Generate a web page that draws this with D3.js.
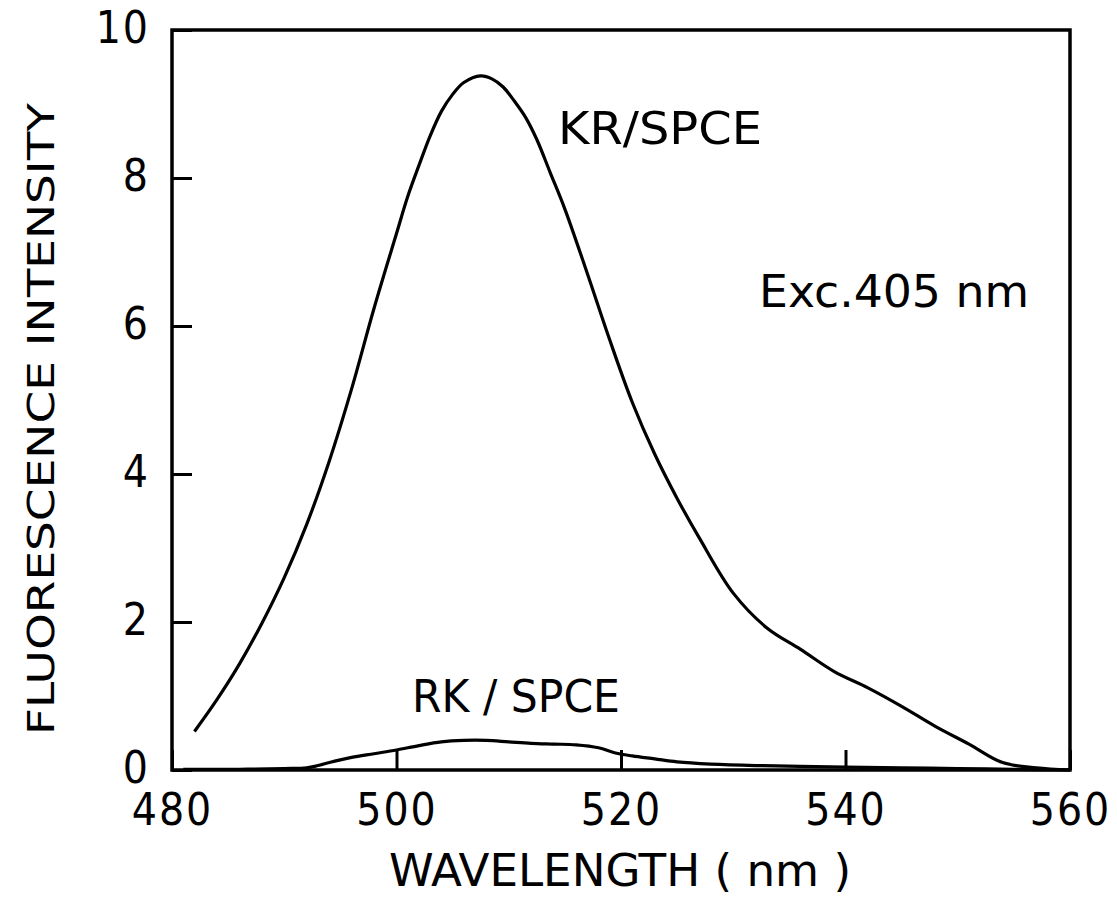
<!DOCTYPE html>
<html>
<head>
<meta charset="utf-8">
<script src="https://cdn.jsdelivr.net/npm/d3@7"></script>
<style>
  body { margin: 0; background: #fff; }
  svg text { font-family: "DejaVu Sans Condensed", "Liberation Sans Narrow", "DejaVu Sans", sans-serif; fill: #000; }
</style>
</head>
<body>
<div id="chart"></div>
<script>
// values
const xTicks = [480, 500, 520, 540, 560];
const yTicks = [0, 2, 4, 6, 8, 10];

const krWavelength = [482, 484, 486, 488, 490, 492, 494, 496, 498, 500, 501, 502, 503, 504, 505, 506, 507.5, 508.5, 509.5, 510.5, 511.5, 512.5, 513.7, 515, 517, 519, 521, 523, 525, 527, 530, 533, 536, 539, 542, 545, 548, 551, 554, 557, 560];
const krIntensity  = [0.52, 0.95, 1.43, 1.98, 2.60, 3.32, 4.17, 5.15, 6.24, 7.25, 7.75, 8.17, 8.57, 8.90, 9.13, 9.29, 9.38, 9.34, 9.23, 9.04, 8.82, 8.52, 8.07, 7.58, 6.71, 5.81, 4.97, 4.27, 3.67, 3.13, 2.39, 1.92, 1.63, 1.33, 1.11, 0.86, 0.59, 0.35, 0.10, 0.03, 0.0];

const rkWavelength = [481, 486, 490, 492, 493, 494.5, 496, 498, 500, 502, 504, 506, 508, 510, 512, 514, 516, 518, 519.5, 521, 523, 525, 528, 532, 536, 540, 545, 550, 555, 560];
const rkIntensity  = [0.01, 0.01, 0.02, 0.03, 0.06, 0.12, 0.17, 0.22, 0.27, 0.33, 0.38, 0.40, 0.40, 0.38, 0.36, 0.35, 0.34, 0.30, 0.23, 0.19, 0.15, 0.11, 0.08, 0.06, 0.05, 0.04, 0.03, 0.02, 0.01, 0.0];

const width = 1117;
const height = 920;
const plot = {left: 172, right: 1070, top: 30, bottom: 770};

const svg = d3.select('#chart')
    .append('svg')
    .attr('width', width)
    .attr('height', height);

const xScale = d3.scaleLinear().domain([480, 560]).range([plot.left, plot.right]);
const yScale = d3.scaleLinear().domain([0, 10]).range([plot.bottom, plot.top]);

// axes with inward ticks
const xAxis = svg.append('g')
    .attr('transform', `translate(0,${plot.bottom})`)
    .call(d3.axisBottom(xScale).tickValues(xTicks).tickSize(-20).tickPadding(24).tickFormat(d3.format('d')));

const yAxis = svg.append('g')
    .attr('transform', `translate(${plot.left},0)`)
    .call(d3.axisLeft(yScale).tickValues(yTicks).tickSize(-20).tickPadding(22).tickFormat(d3.format('d')));

[xAxis, yAxis].forEach(g => {
    g.select('.domain').remove();
    g.selectAll('.tick line').attr('stroke', '#000').attr('stroke-width', 3);
    g.selectAll('.tick text')
        .style('font-size', '44px')
        .style('letter-spacing', '2px');
});
yAxis.selectAll('.tick text').attr('dy', '0.28em');

// frame
svg.append('rect')
    .attr('x', plot.left)
    .attr('y', plot.top)
    .attr('width', plot.right - plot.left)
    .attr('height', plot.bottom - plot.top)
    .attr('fill', 'none')
    .attr('stroke', '#000')
    .attr('stroke-width', 3.5);

const line = d3.line()
    .curve(d3.curveCatmullRom.alpha(0.5))
    .x(d => xScale(d[0]))
    .y(d => yScale(d[1]));

const series = [
    d3.zip(krWavelength, krIntensity),
    d3.zip(rkWavelength, rkIntensity)
];

svg.selectAll('.spectrum')
    .data(series)
    .join('path')
    .attr('class', 'spectrum')
    .attr('fill', 'none')
    .attr('stroke', '#000')
    .attr('stroke-width', 3.2)
    .attr('stroke-linejoin', 'round')
    .attr('d', line);

// labels
function label(txt, x, y, size, len) {
    svg.append('text')
        .attr('x', x)
        .attr('y', y)
        .attr('textLength', len)
        .attr('lengthAdjust', 'spacingAndGlyphs')
        .style('font-size', size + 'px')
        .text(txt);
}

label('KR/SPCE', 558, 144, 44, 204);
label('Exc.405 nm', 759, 307, 44, 270);
label('RK / SPCE', 412, 712, 44, 208);

// axis titles
svg.append('text')
    .attr('x', 389)
    .attr('y', 886)
    .attr('textLength', 462)
    .attr('lengthAdjust', 'spacingAndGlyphs')
    .style('font-size', '44px')
    .text('WAVELENGTH ( nm )');

svg.append('text')
    .attr('transform', 'translate(54,735) rotate(-90)')
    .attr('textLength', 632)
    .attr('lengthAdjust', 'spacingAndGlyphs')
    .style('font-size', '38px')
    .text('FLUORESCENCE  INTENSITY');
</script>
</body>
</html>
